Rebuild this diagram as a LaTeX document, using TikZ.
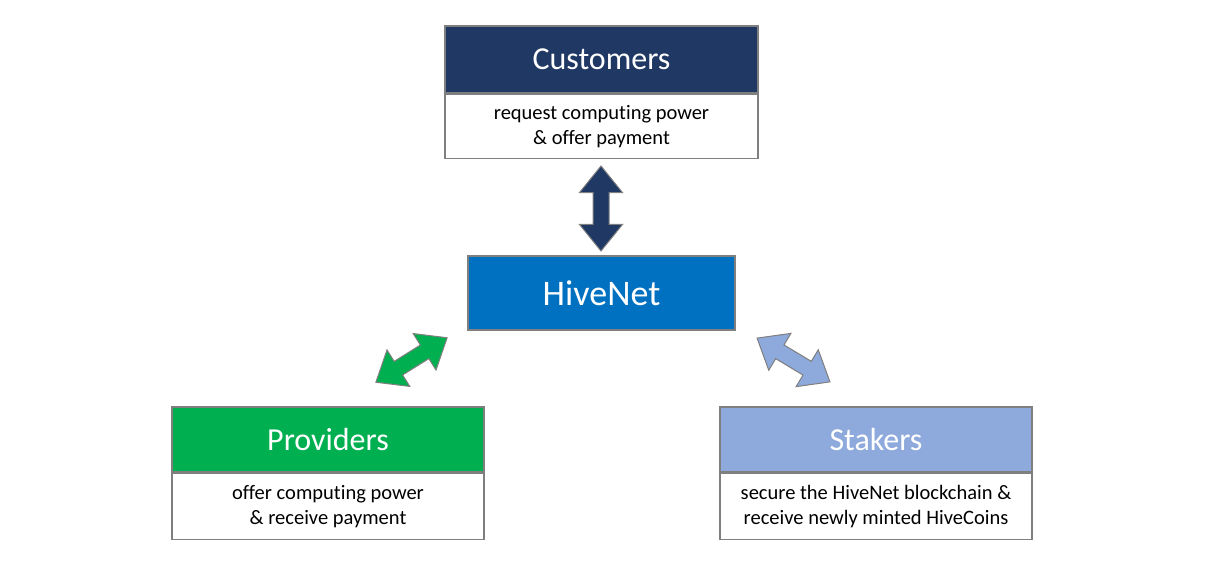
\documentclass[tikz,border=0pt]{standalone}
\usepackage{fontspec}
\setmainfont{Carlito}[Ligatures=NoCommon]
\usetikzlibrary{shapes.arrows,positioning}
\definecolor{navy}{HTML}{1F3864}
\definecolor{hive}{HTML}{0070C0}
\definecolor{provgreen}{HTML}{00B050}
\definecolor{stakeblue}{HTML}{8EA9DB}
\definecolor{edge}{HTML}{7F7F7F}
\begin{document}
\begin{tikzpicture}[x=1pt,y=-1pt,
  hdr/.style={draw=edge,line width=1.5pt,rectangle,inner sep=0pt,text=white,font=\fontsize{32}{36}\selectfont},
  bodybox/.style={draw=edge,line width=1.5pt,rectangle,fill=white,inner sep=0pt,align=center,font=\fontsize{20.5}{25}\selectfont},
  blockarrow/.style={double arrow,draw=edge,line width=1pt,inner xsep=0pt,inner ysep=7.5pt,
     double arrow head extend=13.5pt,double arrow tip angle=78,minimum height=85pt}
]
\useasboundingbox (0,0) rectangle (1229,581);
% Customers
\node[hdr,fill=navy,minimum width=313pt,minimum height=67pt] (custH) at (601.5,59.5) {Customers};
\node[bodybox,minimum width=313pt,minimum height=64pt,anchor=north] (custB) at (custH.south) {request computing power\\\& offer payment};
% HiveNet
\node[hdr,fill=hive,minimum width=267pt,minimum height=74pt,font=\fontsize{36}{40}\selectfont] (hive) at (601.5,293) {HiveNet};
% Providers
\node[hdr,fill=provgreen,minimum width=312pt,minimum height=65pt] (provH) at (328,439.5) {Providers};
\node[bodybox,minimum width=312pt,minimum height=66pt,anchor=north] (provB) at (provH.south) {offer computing power\\\& receive payment};
% Stakers
\node[hdr,fill=stakeblue,minimum width=312pt,minimum height=65pt] (stakH) at (876,439.5) {Stakers};
\node[bodybox,minimum width=312pt,minimum height=66pt,anchor=north] (stakB) at (stakH.south) {secure the HiveNet blockchain \&\\receive newly minted HiveCoins};
% Arrows
\node[blockarrow,fill=navy,rotate=90] (a1) at (601,208.5) {};
\node[blockarrow,fill=provgreen,rotate=32,minimum height=84pt] (a2) at (411.5,360) {};
\node[blockarrow,fill=stakeblue,rotate=-31,minimum height=85pt] (a3) at (793.5,360) {};
\end{tikzpicture}
\end{document}
